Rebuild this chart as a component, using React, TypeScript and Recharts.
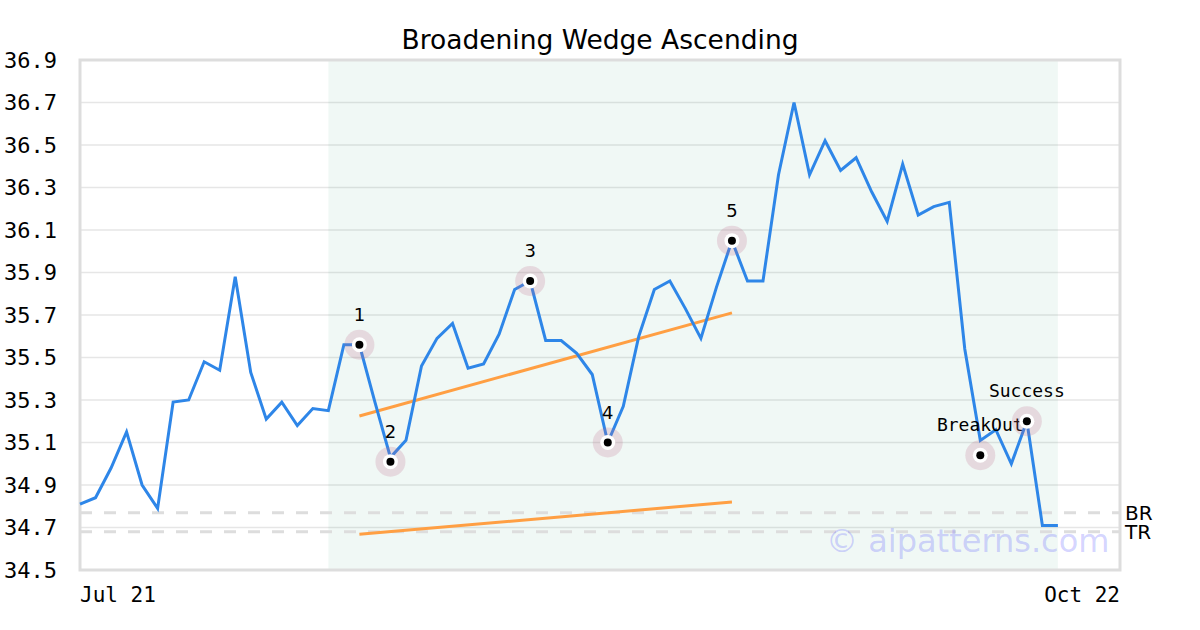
import {
  ComposedChart, Line, Scatter, XAxis, YAxis, CartesianGrid,
  ReferenceArea, ReferenceLine
} from "recharts";

const prices = [
  34.81, 34.84, 34.98, 35.15, 34.90, 34.79, 35.29, 35.30, 35.48, 35.44,
  35.88, 35.43, 35.21, 35.29, 35.18, 35.26, 35.25, 35.56, 35.56, 35.29,
  35.03, 35.11, 35.46, 35.59, 35.66, 35.45, 35.47, 35.61, 35.82, 35.86,
  35.58, 35.58, 35.52, 35.42, 35.10, 35.27, 35.60, 35.82, 35.86, 35.73,
  35.59, 35.83, 36.05, 35.86, 35.86, 36.36, 36.70, 36.36, 36.52, 36.38,
  36.44, 36.28, 36.14, 36.41, 36.17, 36.21, 36.23, 35.54, 35.11, 35.16,
  35.00, 35.20, 34.71, 34.71,
];

// trend lines: [start index, start value, end index, end value]
const upperTrend = [18, 35.225, 42, 35.71];
const lowerTrend = [18, 34.668, 42, 34.82];

const markers = [
  { i: 18, v: 35.56, label: "1", mono: false },
  { i: 20, v: 35.01, label: "2", mono: false },
  { i: 29, v: 35.86, label: "3", mono: false },
  { i: 34, v: 35.10, label: "4", mono: false },
  { i: 42, v: 36.05, label: "5", mono: false },
  { i: 58, v: 35.04, label: "BreakOut", mono: true },
  { i: 61, v: 35.20, label: "Success", mono: true },
];

const yTicks = [34.5, 34.7, 34.9, 35.1, 35.3, 35.5, 35.7, 35.9, 36.1, 36.3, 36.5, 36.7, 36.9];
const xTicks = [0, 67];
const xLabels = ["Jul 21", "Oct 22"];

const patternStart = 16;
const patternEnd = 63;
const breakoutLevel = 34.77;
const targetLevel = 34.68;

const data = prices.map((p, i) => ({
  i,
  price: p,
  upper: i === upperTrend[0] ? upperTrend[1] : i === upperTrend[2] ? upperTrend[3] : null,
  lower: i === lowerTrend[0] ? lowerTrend[1] : i === lowerTrend[2] ? lowerTrend[3] : null,
}));

const SANS = "DejaVu Sans, sans-serif";
const MONO = "DejaVu Sans Mono, monospace";

function MarkerShape(props: any) {
  const { cx, cy, payload } = props;
  return (
    <g>
      <circle cx={cx} cy={cy} r={15} fill="rgb(190,110,140)" fillOpacity={0.22} />
      <circle cx={cx} cy={cy} r={7.5} fill="#fff" />
      <circle cx={cx} cy={cy} r={4} fill="#000" />
      <text
        x={cx}
        y={cy - 24}
        textAnchor="middle"
        fontFamily={payload.mono ? MONO : SANS}
        fontSize={18}
        fill="#000"
      >
        {payload.label}
      </text>
    </g>
  );
}

function XTick(props: any) {
  const { x, y, index } = props;
  return (
    <text
      x={x}
      y={y + 24}
      textAnchor={index === 0 ? "start" : "end"}
      fontFamily={MONO}
      fontSize={21}
      fill="#000"
    >
      {xLabels[index]}
    </text>
  );
}

export default function App() {
  return (
    <div style={{ position: "absolute", left: 0, top: 0, width: 1200, height: 630, background: "#fff" }}>
      <div
        style={{
          position: "absolute", left: 0, top: 24, width: 1200, textAlign: "center",
          fontFamily: SANS, fontSize: 26.5, color: "#000", lineHeight: "32px",
        }}
      >
        Broadening Wedge Ascending
      </div>
      <ComposedChart
        width={1200}
        height={630}
        data={data}
        margin={{ top: 60, right: 80, bottom: 30, left: 0 }}
      >
        <CartesianGrid vertical={false} stroke="#e6e6e6" strokeWidth={1.5} />
        <ReferenceArea
          x1={patternStart}
          x2={patternEnd}
          y1={34.5}
          y2={36.9}
          fill="rgb(0,140,80)"
          fillOpacity={0.06}
          stroke="none"
        />
        <XAxis
          dataKey="i"
          type="number"
          domain={[0, 67]}
          ticks={xTicks}
          tick={<XTick />}
          tickLine={false}
          axisLine={false}
          height={30}
        />
        <YAxis
          type="number"
          domain={[34.5, 36.9]}
          ticks={yTicks}
          tickFormatter={(v: number) => v.toFixed(1)}
          tick={{ fontFamily: MONO, fontSize: 22, fill: "#000" }}
          tickLine={false}
          tickSize={0}
          tickMargin={23}
          axisLine={false}
          width={80}
          interval={0}
        />
        <ReferenceLine
          y={breakoutLevel}
          stroke="#dddddd"
          strokeWidth={3}
          strokeDasharray="12 12"
          label={{ value: "BR", position: "right", fontFamily: SANS, fontSize: 20, fill: "#000" }}
        />
        <ReferenceLine
          y={targetLevel}
          stroke="#dddddd"
          strokeWidth={3}
          strokeDasharray="12 12"
          label={{ value: "TR", position: "right", fontFamily: SANS, fontSize: 20, fill: "#000" }}
        />
        <Line
          dataKey="upper"
          stroke="#ff9f43"
          strokeWidth={3}
          dot={false}
          connectNulls
          isAnimationActive={false}
        />
        <Line
          dataKey="lower"
          stroke="#ff9f43"
          strokeWidth={3}
          dot={false}
          connectNulls
          isAnimationActive={false}
        />
        <Line
          dataKey="price"
          stroke="#2e86e8"
          strokeWidth={3}
          dot={false}
          strokeLinejoin="miter"
          isAnimationActive={false}
        />
        <Scatter data={markers} dataKey="v" shape={<MarkerShape />} isAnimationActive={false} />
        <ReferenceArea
          x1={0}
          x2={67}
          y1={34.5}
          y2={36.9}
          fill="none"
          stroke="#dddddd"
          strokeWidth={3}
        />
      </ComposedChart>
      <div
        style={{
          position: "absolute", left: 826, top: 521, fontFamily: SANS, fontSize: 32,
          color: "rgba(110,110,255,0.3)", lineHeight: "40px", whiteSpace: "nowrap",
        }}
      >
        © aipatterns.com
      </div>
    </div>
  );
}
